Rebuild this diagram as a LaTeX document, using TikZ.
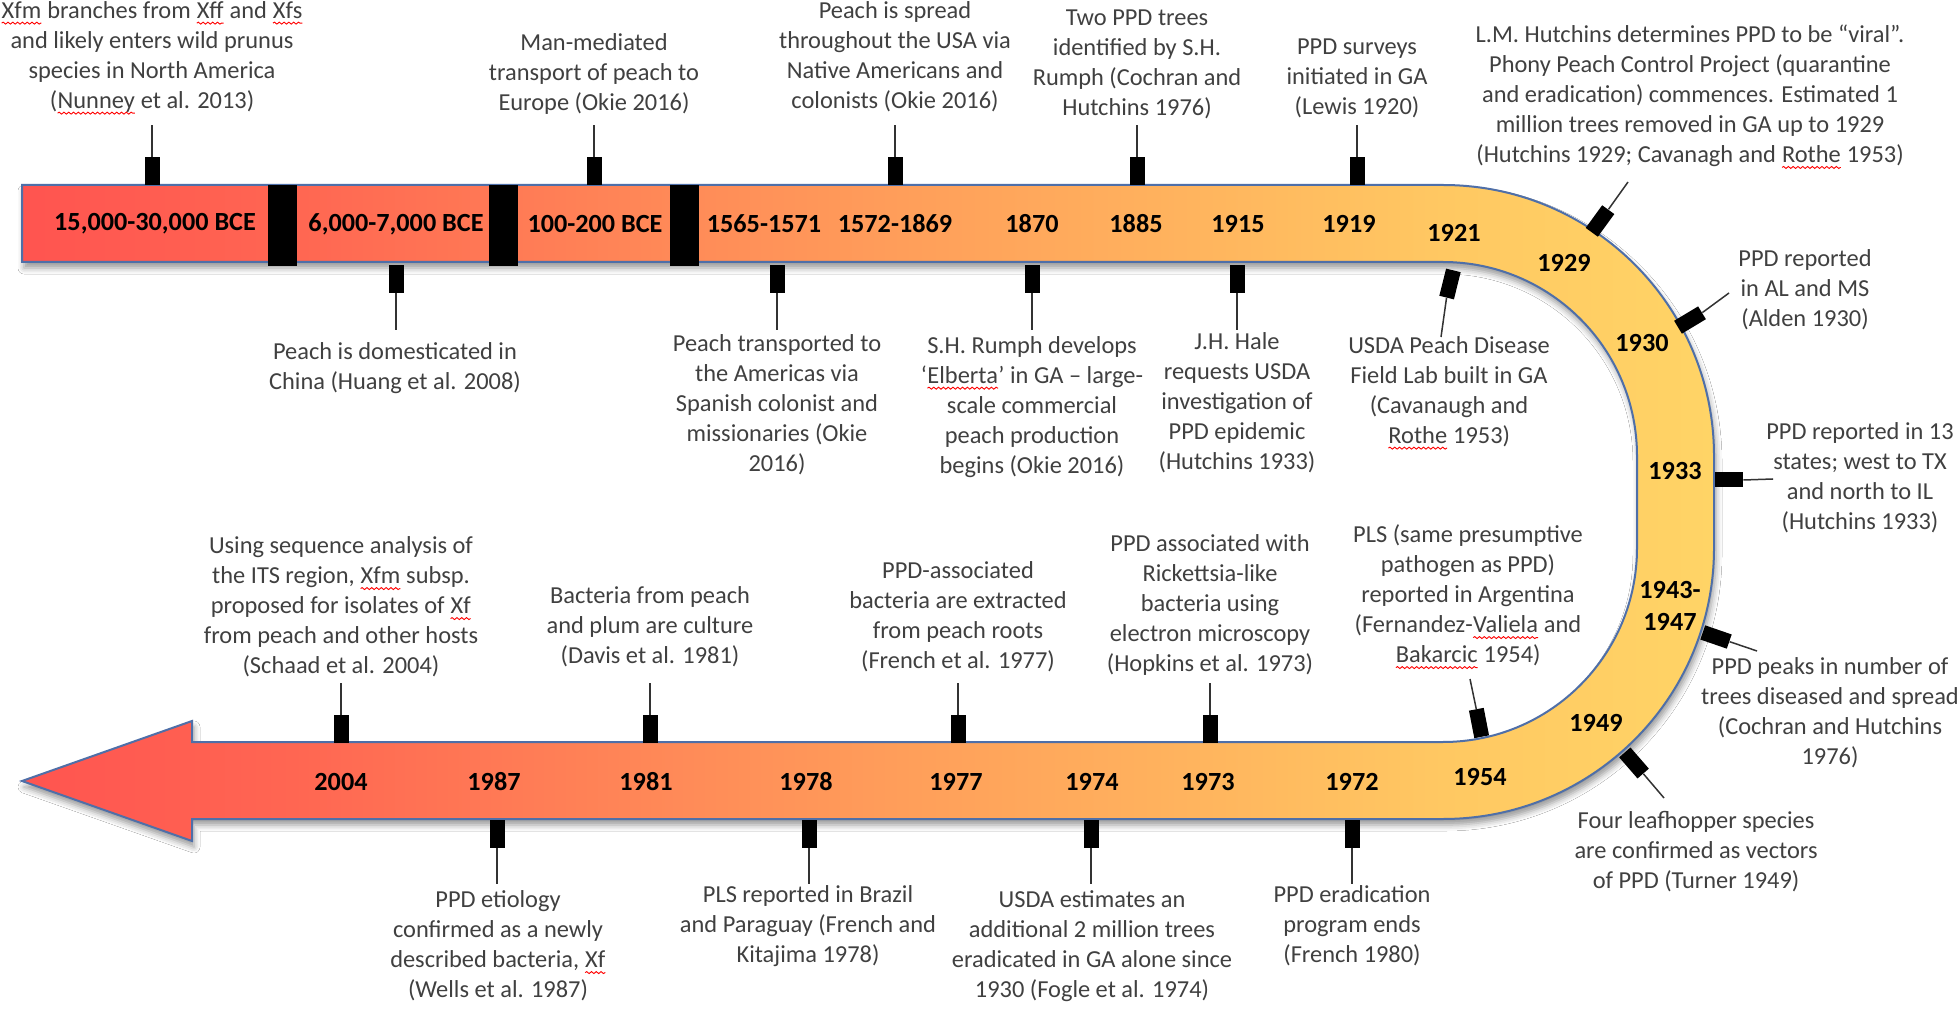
\documentclass[tikz,border=0pt]{standalone}
\usepackage{fontspec}
\setmainfont{Carlito}
\usetikzlibrary{shadows.blur,decorations.pathmorphing}

\definecolor{lblgray}{HTML}{404040}
\definecolor{bandedge}{HTML}{4F6FA8}
\definecolor{g0}{HTML}{FF5450}
\definecolor{g1}{HTML}{FF6652}
\definecolor{g2}{HTML}{FF8C58}
\definecolor{g3}{HTML}{FF9E5A}
\definecolor{g4}{HTML}{FFB55E}
\definecolor{g5}{HTML}{FFC862}
\definecolor{g6}{HTML}{FFD466}
\pgfdeclarehorizontalshading{bandshade}{100bp}{color(0bp)=(g0); color(25bp)=(g0); color(33bp)=(g1); color(45bp)=(g2); color(51bp)=(g3); color(60bp)=(g4); color(67bp)=(g5); color(75bp)=(g6); color(100bp)=(g6)}

% spell-check squiggle under a word
\newcommand\spk[1]{\tikz[x=1pt,y=1pt,baseline=(w.base)]{\node[inner sep=0pt,outer sep=0pt,text=lblgray](w){#1};\draw[red,line width=0.45pt,decorate,decoration={snake,amplitude=0.5pt,segment length=2.4pt}] ([yshift=-2.4pt]w.base west) -- ([yshift=-2.4pt]w.base east);}}

% #1 name, #2 tick centre, #3 rotation, #4 line end, #5 label centre, #6 text
\newcommand\evt[6]{%
  \node[tk, rotate=#3] (k#1) at (#2) {};
  \coordinate (e#1) at (#4);
  \draw[con] (k#1.north) -- (e#1);
  \node[lbl] (l#1) at (#5) {#6};
}

\begin{document}
\begin{tikzpicture}[x=0.5pt,y=-0.5pt,
  lbl/.style={font=\fontsize{12.2}{15}\selectfont, text=lblgray, align=center, inner sep=0pt},
  yr/.style={font=\fontsize{13.1}{16}\selectfont\bfseries, text=black, align=center, inner sep=0pt},
  tk/.style={fill=black, rectangle, minimum width=7.5pt, minimum height=14pt, inner sep=0pt},
  sepbar/.style={fill=black, rectangle, minimum width=14.5pt, minimum height=40.5pt, inner sep=0pt},
  con/.style={draw=black!80, line width=0.75pt}]

\useasboundingbox (0,0) rectangle (1960,1010);
\fill[white] (0,0) rectangle (1960,1010);

% the band
\shade[shading=bandshade, draw=bandedge, line width=1pt,
  blur shadow={shadow xshift=1pt, shadow yshift=-3pt, shadow blur radius=3pt, shadow opacity=40}]
  (22,781) -- (192,721) -- (192,742) -- (1443,742)
  arc[start angle=90, end angle=0, radius=194] -- (1637,456)
  arc[start angle=0, end angle=-90, radius=194] -- (22,262) -- (22,185) -- (1443,185)
  arc[start angle=-90, end angle=0, radius=271] -- (1714,548)
  arc[start angle=0, end angle=90, radius=271] -- (192,819) -- (192,841) -- cycle;

% separators
\node[sepbar] (s1) at (282.5,225.5) {};
\node[sepbar] (s2) at (503.5,225.5) {};
\node[sepbar] (s3) at (684.5,225.5) {};

% year labels
\node[yr] (y01) at (155,224) {15,000-30,000 BCE};
\node[yr] (y02) at (396,224) {6,000-7,000 BCE};
\node[yr] (y03) at (595,224) {100-200 BCE};
\node[yr] (y04) at (764,224) {1565-1571};
\node[yr] (y05) at (895,224) {1572-1869};
\node[yr] (y06) at (1032,224) {1870};
\node[yr] (y07) at (1136,224) {1885};
\node[yr] (y08) at (1238,224) {1915};
\node[yr] (y09) at (1349,224) {1919};
\node[yr] (y10) at (1454,233) {1921};
\node[yr] (y11) at (1564,263) {1929};
\node[yr] (y12) at (1642,343) {1930};
\node[yr] (y13) at (1675,471) {1933};
\node[yr] (y14) at (1670,606) {1943-\\1947};
\node[yr] (y15) at (1596,723) {1949};
\node[yr] (y16) at (1480,777) {1954};
\node[yr] (y17) at (1352,782) {1972};
\node[yr] (y18) at (1208,782) {1973};
\node[yr] (y19) at (1092,782) {1974};
\node[yr] (y20) at (956,782) {1977};
\node[yr] (y21) at (806,782) {1978};
\node[yr] (y22) at (646,782) {1981};
\node[yr] (y23) at (494,782) {1987};
\node[yr] (y24) at (341,782) {2004};

% events above the top band
\evt{1}{152,171}{0}{152,125}{152,58}{\spk{Xfm} branches from \spk{Xff} and \spk{Xfs}\\and likely enters wild prunus\\species in North America\\(\spk{Nunney} et al. 2013)}
\evt{2}{594,171}{0}{594,125}{594,74}{Man-mediated\\transport of peach to\\Europe (Okie 2016)}
\evt{3}{895,171}{0}{895,125}{895,57}{Peach is spread\\throughout the USA via\\Native Americans and\\colonists (Okie 2016)}
\evt{4}{1137,171}{0}{1137,125}{1137,64}{Two PPD trees\\identified by S.H.\\Rumph (Cochran and\\Hutchins 1976)}
\evt{5}{1357,171}{0}{1357,125}{1357,78}{PPD surveys\\initiated in GA\\(Lewis 1920)}

% events below the top band
\evt{6}{396,279}{180}{396,330}{395,368}{Peach is domesticated in\\China (Huang et al. 2008)}
\evt{7}{777,279}{180}{777,330}{777,405}{Peach transported to\\the Americas via\\Spanish colonist and\\missionaries (Okie\\2016)}
\evt{8}{1032,279}{180}{1032,330}{1032,407}{S.H. Rumph develops\\‘\spk{Elberta}’ in GA – large-\\scale commercial\\peach production\\begins (Okie 2016)}
\evt{9}{1237,279}{180}{1237,330}{1237,403}{J.H. Hale\\requests USDA\\investigation of\\PPD epidemic\\(Hutchins 1933)}
\evt{10}{1450,284}{166}{1441,337}{1449,393}{USDA Peach Disease\\Field Lab built in GA\\(Cavanaugh and\\\spk{Rothe} 1953)}

% events around the turn
\evt{11}{1600,221}{-36}{1628,182}{1690,97}{L.M. Hutchins determines PPD to be “viral”.\\Phony Peach Control Project (quarantine\\and eradication) commences. Estimated 1\\million trees removed in GA up to 1929\\(Hutchins 1929; Cavanagh and \spk{Rothe} 1953)}
\evt{12}{1690,320}{-59}{1729,293}{1805,290}{PPD reported\\in AL and MS\\(Alden 1930)}
\evt{13}{1729,480}{-90}{1773,479}{1860,478}{PPD reported in 13\\states; west to TX\\and north to IL\\(Hutchins 1933)}
\evt{14}{1716,637}{-109}{1757,651}{1830,713}{PPD peaks in number of\\trees diseased and spread\\(Cochran and Hutchins\\1976)}
\evt{15}{1634,763}{-139}{1664,798}{1696,852}{Four leafhopper species\\are confirmed as vectors\\of PPD (Turner 1949)}
\evt{16}{1479,723}{11}{1470,679}{1468,597}{PLS (same presumptive\\pathogen as PPD)\\reported in Argentina\\(Fernandez-\spk{Valiela} and\\\spk{Bakarcic} 1954)}

% events above the lower band
\evt{17}{341,729}{0}{341,683}{341,607}{Using sequence analysis of\\the ITS region, \spk{Xfm} subsp.\\proposed for isolates of \spk{Xf}\\from peach and other hosts\\(Schaad et al. 2004)}
\evt{18}{650,729}{0}{650,683}{650,627}{Bacteria from peach\\and plum are culture\\(Davis et al. 1981)}
\evt{19}{958,729}{0}{958,683}{958,617}{PPD-associated\\bacteria are extracted\\from peach roots\\(French et al. 1977)}
\evt{20}{1210,729}{0}{1210,683}{1210,605}{PPD associated with\\Rickettsia-like\\bacteria using\\electron microscopy\\(Hopkins et al. 1973)}

% events below the lower band
\evt{21}{497,834}{180}{497,884}{498,946}{PPD etiology\\confirmed as a newly\\described bacteria, \spk{Xf}\\(Wells et al. 1987)}
\evt{22}{809,834}{180}{809,884}{808,926}{PLS reported in Brazil\\and Paraguay (French and\\Kitajima 1978)}
\evt{23}{1091,834}{180}{1091,884}{1092,946}{USDA estimates an\\additional 2 million trees\\eradicated in GA alone since\\1930 (Fogle et al. 1974)}
\evt{24}{1352,834}{180}{1352,884}{1352,926}{PPD eradication\\program ends\\(French 1980)}

\end{tikzpicture}
\end{document}
